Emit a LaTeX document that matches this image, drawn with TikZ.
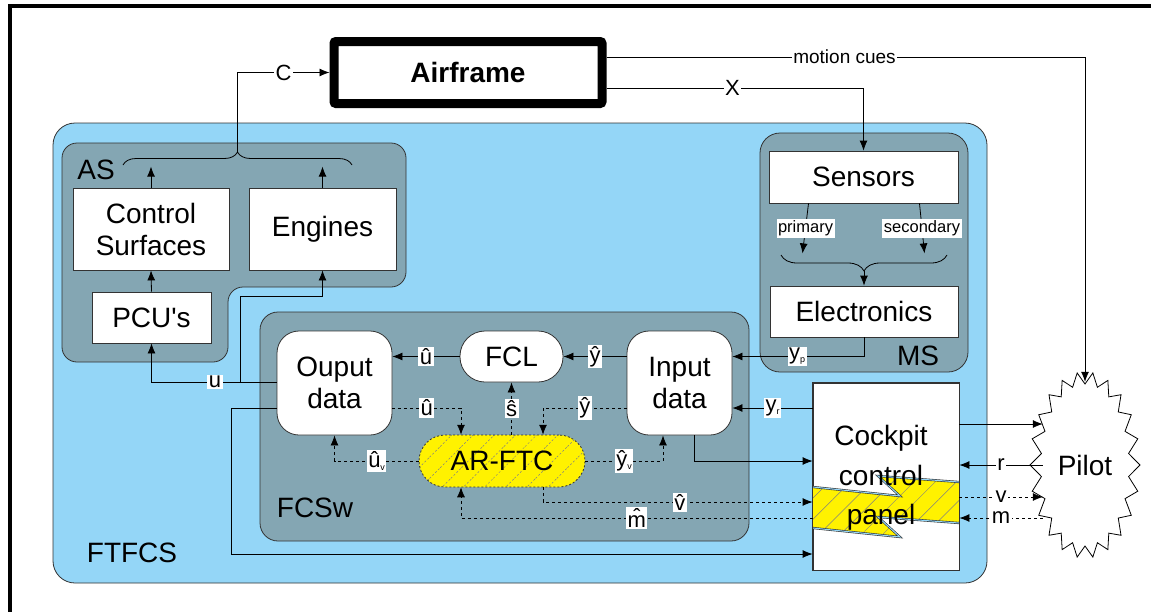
\documentclass[tikz,border=0pt]{standalone}
\usepackage{fontspec}
\setmainfont{Liberation Sans}
\usetikzlibrary{arrows.meta,shapes.geometric,patterns.meta,decorations.pathreplacing,positioning}
\definecolor{ftblue}{RGB}{148,214,247}
\definecolor{grpgray}{RGB}{132,166,179}
\definecolor{ftcyellow}{RGB}{255,242,0}
\newcommand{\bigtxt}{\fontsize{28}{32}\selectfont}
\newcommand{\vartxt}{\fontsize{22}{24}\selectfont}
\newcommand{\lsub}[2]{#1\raisebox{-3pt}{\fontsize{9}{9}\selectfont #2}}
\tikzset{
  box/.style={draw=black!80, fill=white, font=\bigtxt, align=center, inner sep=0pt, line width=0.8pt},
  roundbox/.style={box, rounded corners=22pt},
  pill/.style={box, rounded corners=25pt},
  hatch/.style={pattern={Lines[angle=45,distance=15pt,line width=0.5pt]}, pattern color=gray},
  ftc/.style={draw=black!80, line width=0.8pt, dash pattern=on 2pt off 2pt, preaction={fill=ftcyellow}, hatch, font=\bigtxt, rounded corners=26pt, inner sep=0pt},
  grp/.style={draw=black!80, fill=grpgray, line width=0.8pt},
  lbl/.style={fill=white, font=\vartxt, inner sep=1.5pt},
  sig/.style={line width=0.8pt, -{Latex[length=10pt,width=8pt]}},
  dsig/.style={sig, dash pattern=on 3pt off 3pt},
}
\begin{document}
\begin{tikzpicture}[x=1pt,y=-1pt]
\useasboundingbox (0,0) rectangle (1151,611);
\clip (0,0) rectangle (1151,611);
\fill[white] (0,0) rectangle (1151,611);
\draw[line width=4pt] (9.5,5.5) rectangle (1200,650);
\draw[fill=ftblue, draw=black!80, line width=0.8pt, rounded corners=22pt] (53,123) rectangle (987,583);
\draw[grp, rounded corners=15pt] (62,143) -- (406,143) -- (406,287) -- (228,287) -- (228,362) -- (62,362) -- cycle;
\draw[grp, rounded corners=20pt] (760,133) rectangle (968,372);
\draw[grp, rounded corners=18pt] (260,312) rectangle (749,541);
\node[font=\bigtxt] (ftfcslbl) at (132,553) {FTFCS};
\node[font=\bigtxt] (aslbl) at (96,170) {AS};
\node[font=\bigtxt] (mslbl) at (918,356) {MS};
\node[font=\bigtxt] (fcswlbl) at (315,508) {FCSw};
\node[box, draw=black, line width=9pt, rounded corners=2pt, minimum width=268pt, minimum height=62pt, font=\bigtxt\bfseries] (airframe) at (468,72.5) {Airframe};
\node[box, minimum width=156pt, minimum height=82pt] (surfaces) at (151,229) {Control\\Surfaces};
\node[box, minimum width=147pt, minimum height=82pt] (engines) at (322.5,229) {Engines};
\node[box, minimum width=119pt, minimum height=51pt] (pcu) at (151.5,317.5) {PCU\textquotesingle s};
\node[box, minimum width=189pt, minimum height=52pt] (sensors) at (863.5,177) {Sensors};
\node[box, minimum width=188pt, minimum height=51pt] (electronics) at (864,311.5) {Electronics};
\node[roundbox, minimum width=115pt, minimum height=104pt] (output) at (334.5,383) {Ouput\\data};
\node[pill, minimum width=103pt, minimum height=51pt] (fcl) at (511.5,356.5) {FCL};
\node[roundbox, minimum width=105pt, minimum height=104pt] (input) at (679.5,383) {Input\\data};
\node[ftc, minimum width=166pt, minimum height=52pt] (arftc) at (502,461) {AR-FTC};
\node[box, minimum width=146pt, minimum height=187pt] (cockpit) at (886,476.5) {};
\fill[ftcyellow] (813,487) -- (900,496) -- (878,476) -- (959,482) -- (959,523) -- (878,517) -- (900,537) -- (813,528) -- cycle;
\fill[hatch] (813,487) -- (900,496) -- (878,476) -- (959,482) -- (959,523) -- (878,517) -- (900,537) -- (813,528) -- cycle;
\draw[black!80, double=ftblue, double distance=1pt, line width=0.6pt] (813,487) -- (900,496) -- (878,476) -- (959,482);
\draw[black!80, double=ftblue, double distance=1pt, line width=0.6pt] (813,528) -- (900,537) -- (878,517) -- (959,523);
\draw[draw=black!80, line width=0.8pt] (cockpit.north west) rectangle (cockpit.south east);
\node[font=\fontsize{28}{39.5}\selectfont, align=center] (cockpittext) at (881,478) {Cockpit\\control\\panel};
\draw[line width=0.8pt, fill=white, shift={(1085,465)}] (0:55 and 93) \foreach \i in {0,...,21} { -- ({(\i+0.5)*360/22}:44 and 81) -- ({(\i+1)*360/22}:55 and 93) } -- cycle;
\node[font=\bigtxt, ellipse, minimum width=84pt, minimum height=166pt, inner sep=0pt] (pilot) at (1085,465) {Pilot};
\draw[line width=0.8pt, decorate, decoration={brace, amplitude=13pt}] (123,165) -- (352,165);
\draw[line width=0.8pt, decorate, decoration={brace, amplitude=16pt}] (947,255) -- (781,255);
\coordinate (asjoin) at (237.5,152);
\coordinate (msjoin) at (864,271);
\coordinate (ubranch) at (240,382);
\draw[sig] (asjoin) |- node[lbl, pos=0.75]{C} (airframe.west);
\draw[sig] (surfaces.north) -- ++(0,-21);
\draw[sig] (engines.north) -- ++(0,-21);
\draw[sig] (pcu.north) -- (surfaces.south);
\draw[sig] (airframe.east |- 0,57) -| node[lbl, font=\fontsize{19}{21}\selectfont, pos=0.2487]{motion cues\hspace{12pt}} (pilot.north);
\draw[sig] (airframe.east |- 0,88) -| node[lbl, pos=0.245]{X} (sensors.north);
\draw[sig] ([xshift=-55pt]sensors.south) -- node[lbl, font=\fontsize{16.5}{18}\selectfont]{primary} ++(-6,50);
\draw[sig] ([xshift=56pt]sensors.south) -- node[lbl, font=\fontsize{16.5}{18}\selectfont]{secondary} ++(5,50);
\draw[sig] (msjoin) -- (electronics.north);
\draw[sig] (electronics.south) |- node[lbl, pos=0.754]{\lsub{y}{p}} (input.east |- fcl.east);
\draw[sig] (fcl.west) -- node[lbl]{\^u} (output.east |- fcl.west);
\draw[sig] (input.west |- fcl.east) -- node[lbl]{\^y} (fcl.east);
\draw[sig] (cockpit.west |- 0,408) -- node[lbl]{\lsub{y}{r}} (input.east |- 0,408);
\draw[sig] ([xshift=14.5pt]input.south) |- (cockpit.west |- 0,461);
\draw[sig] (output.west |- 0,382) -| node[lbl, pos=0.246]{u} (pcu.south);
\draw[sig] (ubranch) |- ([yshift=-26pt]engines.south) -- (engines.south);
\draw[sig] (output.west |- 0,408) -- ++(-45,0) |- (cockpit.west |- 0,554);
\draw[dsig] (fcl.south |- arftc.north) -- node[lbl]{\^s} (fcl.south);
\draw[dsig] (output.east |- 0,408) -| node[lbl, pos=0.25]{\^u} (arftc.north -| 461,0);
\draw[dsig] (input.west |- 0,408) -| node[lbl, pos=0.25]{\^y} (arftc.north -| 543,0);
\draw[dsig] (arftc.west) -| node[lbl, pos=0.25]{\lsub{\^u}{v}} (output.south);
\draw[dsig] (arftc.east) -| node[lbl, pos=0.25]{\lsub{\^y}{v}} ([xshift=-16.5pt]input.south);
\draw[dsig] (arftc.south -| 543,0) |- node[lbl, pos=0.754]{\^v} (cockpit.west |- 0,502);
\draw[dsig] (cockpit.west |- 0,518) -| node[lbl, pos=0.25]{\^m} (arftc.south -| 461,0);
\draw[sig] (cockpit.east |- 0,424) -- (pilot.west |- 0,424);
\draw[sig] (pilot.west) -- node[lbl]{r} (cockpit.east |- pilot.west);
\draw[dsig] (cockpit.east |- 0,497) -- node[lbl]{v} (pilot.west |- 0,497);
\draw[dsig] (pilot.west |- 0,518) -- node[lbl]{m} (cockpit.east |- 0,518);
\end{tikzpicture}
\end{document}
